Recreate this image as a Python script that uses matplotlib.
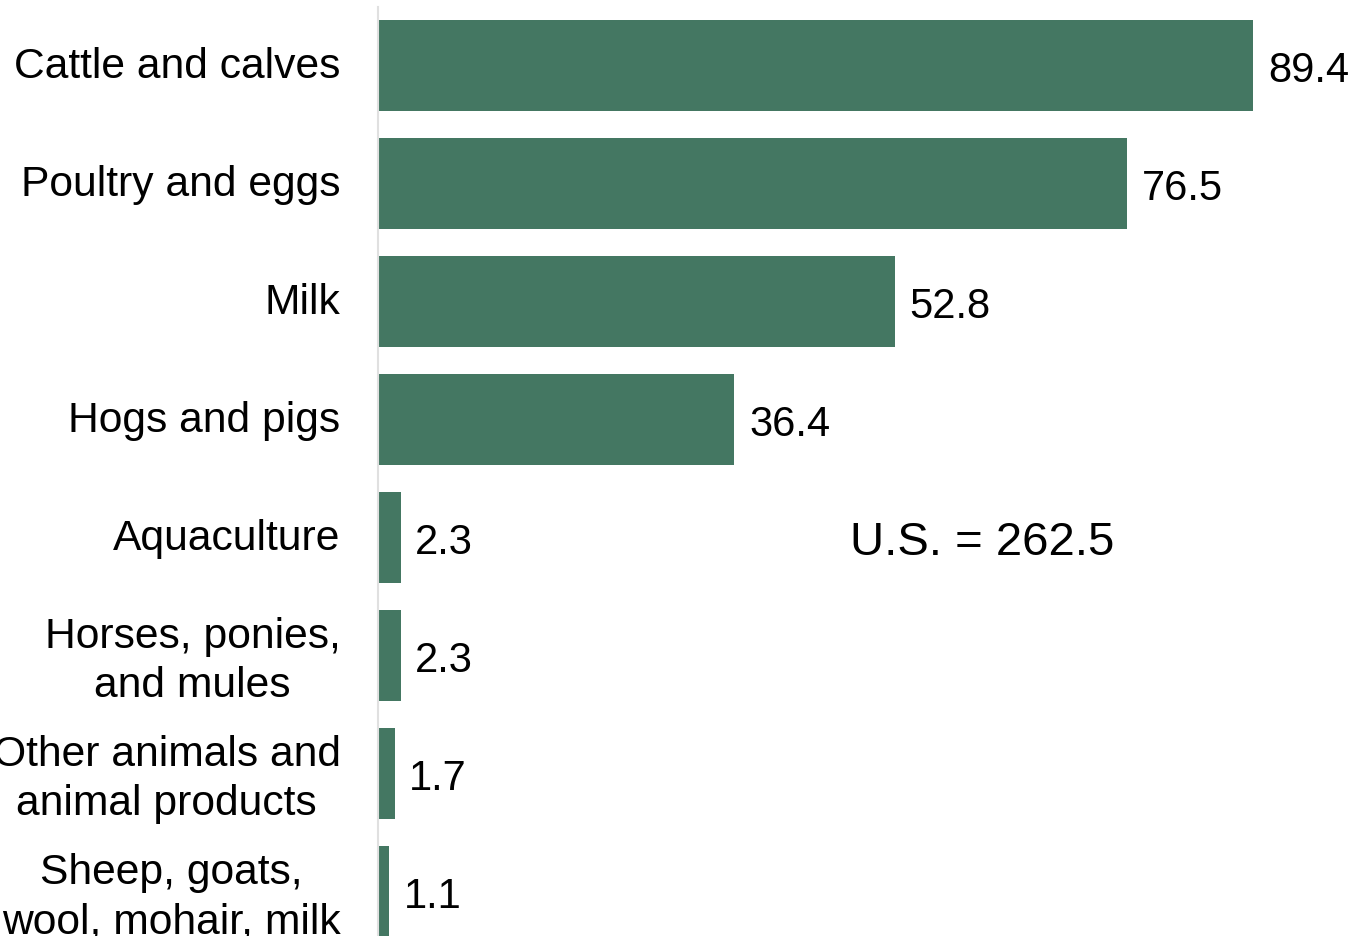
import matplotlib
matplotlib.use('Agg')
import matplotlib.pyplot as plt
from matplotlib.transforms import ScaledTranslation

categories = ['Cattle and calves', 'Poultry and eggs', 'Milk', 'Hogs and pigs',
              'Aquaculture', 'Horses, ponies,\nand mules',
              'Other animals and\nanimal products', 'Sheep, goats,\nwool, mohair, milk']
values = [89.4, 76.5, 52.8, 36.4, 2.3, 2.3, 1.7, 1.1]
total_label = 'U.S. = 262.5'

plt.rcParams['font.family'] = ['Liberation Sans', 'DejaVu Sans']

fig = plt.figure(figsize=(13.5, 9.37), dpi=100)
ax = fig.add_axes([0.28, 0.0, 0.72, 0.9915])

pos = list(range(len(values)))
ax.barh(pos, values, height=0.77, color='#447762')
ax.set_ylim(7.377, -0.496)
ax.set_xlim(0, 99.3)

for p, v in zip(pos, values):
    ax.text(v + 1.5, p + 0.04, f'{v}', va='center', ha='left', fontsize=30)

ax.text(61.7, 4.04, total_label, va='center', ha='center', fontsize=34)

ax.set_yticks(pos)
ax.set_yticklabels(categories, fontsize=30.7, multialignment='center', linespacing=1.3)
ax.tick_params(axis='y', length=0, pad=27)
# nudge the category labels up a little
shift = ScaledTranslation(0, 0.04, fig.dpi_scale_trans)
for lbl in ax.get_yticklabels():
    lbl.set_transform(lbl.get_transform() + shift)
ax.set_xticks([])
for s in ['top', 'right', 'bottom']:
    ax.spines[s].set_visible(False)
ax.spines['left'].set_color('#e0e0e0')
ax.spines['left'].set_linewidth(1.5)

fig.savefig('out.png', dpi=100)
